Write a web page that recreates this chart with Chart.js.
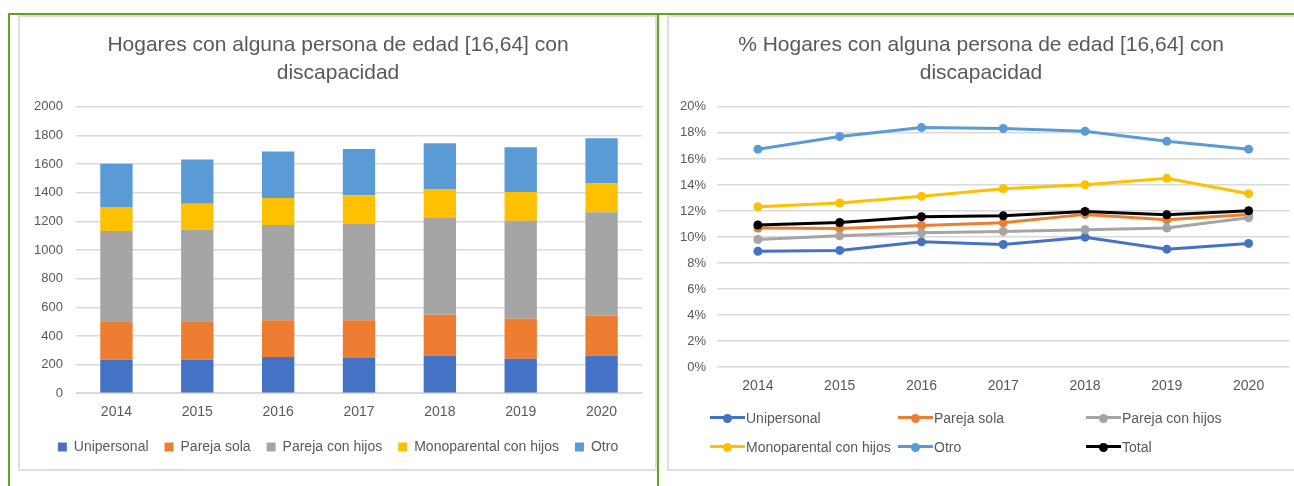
<!DOCTYPE html>
<html>
<head>
<meta charset="utf-8">
<script src="https://cdn.jsdelivr.net/npm/chart.js@4/dist/chart.umd.min.js"></script>
<style>
    body { margin: 0; background: #fff; width: 1294px; height: 486px; overflow: hidden; position: relative; font-family: "Liberation Sans", Arial, sans-serif; }
    .green { position: absolute; background: #65a41e; }
    .frame { position: absolute; border: 2px solid #dedede; box-sizing: border-box; }
    #leftBox { left: 18px; top: 15px; width: 639px; height: 456px; }
    #rightBox { left: 667px; top: 15px; width: 640px; height: 456px; }
    #leftWrap { position: absolute; left: 20px; top: 17px; width: 635px; height: 452px; }
    #rightWrap { position: absolute; left: 669px; top: 17px; width: 625px; height: 452px; }
    #lineLegend { position: absolute; left: 710px; top: 403px; display: grid; grid-template-columns: 188px 188px 188px; grid-auto-rows: 29px; font-size: 14px; color: #595959; }
    .item { display: flex; align-items: center; white-space: nowrap; }
    .mark { position: relative; width: 35px; height: 10px; margin-right: 1px; }
    .mark .ln { position: absolute; left: 0; right: 0; top: 3.5px; height: 3px; }
    .mark .dot { position: absolute; left: 13px; top: 1px; width: 9px; height: 9px; border-radius: 50%; }
</style>
</head>
<body>
<div class="frame" id="leftBox"></div>
<div class="frame" id="rightBox"></div>
<div class="green" style="left:8px;top:13px;width:1286px;height:2px"></div>
<div class="green" style="left:8px;top:13px;width:2px;height:473px"></div>
<div class="green" style="left:657px;top:13px;width:2px;height:473px"></div>
<div id="leftWrap"><canvas id="barChart"></canvas></div>
<div id="rightWrap"><canvas id="lineChart"></canvas></div>
<div id="lineLegend"></div>

<script>
let years = ['2014', '2015', '2016', '2017', '2018', '2019', '2020'];
let tipos = ['Unipersonal', 'Pareja sola', 'Pareja con hijos', 'Monoparental con hijos', 'Otro'];
let colores = ['#4472c4', '#ed7d31', '#a5a5a5', '#ffc000', '#5b9bd5'];

// numero de hogares
let unipersonal = [233, 233, 252, 245, 261, 240, 261];
let parejaSola = [264, 264, 258, 265, 287, 280, 280];
let parejaHijos = [636, 645, 665, 672, 676, 685, 723];
let monoparental = [167, 182, 189, 200, 198, 201, 200];
let otro = [303, 308, 324, 324, 324, 312, 317];

// porcentaje de hogares
let pctUnipersonal = [0.0891, 0.0897, 0.0963, 0.0943, 0.0999, 0.0907, 0.0951];
let pctParejaSola = [0.1069, 0.1066, 0.1089, 0.1109, 0.1174, 0.1133, 0.1174];
let pctParejaHijos = [0.0981, 0.1009, 0.1032, 0.1043, 0.1056, 0.1069, 0.1148];
let pctMonoparental = [0.1233, 0.1261, 0.1313, 0.1371, 0.1402, 0.1451, 0.1333];
let pctOtro = [0.1675, 0.1772, 0.1841, 0.1834, 0.1813, 0.1736, 0.1675];
let pctTotal = [0.1092, 0.1112, 0.1156, 0.1163, 0.1197, 0.1171, 0.1202];

let yTicksBar = [0, 200, 400, 600, 800, 1000, 1200, 1400, 1600, 1800, 2000];
let yTicksPct = [0, 0.02, 0.04, 0.06, 0.08, 0.1, 0.12, 0.14, 0.16, 0.18, 0.2];

let gris = '#595959';
let rejilla = '#d9d9d9';
let fuente = '"Liberation Sans", Arial, sans-serif';

Chart.defaults.font.family = fuente;
Chart.defaults.color = gris;
Chart.defaults.animation = false;

let valores = [unipersonal, parejaSola, parejaHijos, monoparental, otro];
let barSets = [];
for (let i = 0; i < tipos.length; i++) {
    barSets.push({
        label: tipos[i],
        data: valores[i],
        backgroundColor: colores[i],
        barPercentage: 0.4,
        categoryPercentage: 1.0
    });
}

new Chart(document.getElementById('barChart'), {
    type: 'bar',
    data: { labels: years, datasets: barSets },
    options: {
        responsive: true,
        maintainAspectRatio: false,
        layout: { padding: { left: 14, right: 13, bottom: 5 } },
        plugins: {
            title: {
                display: true,
                text: ['Hogares con alguna persona de edad [16,64] con', 'discapacidad'],
                color: gris,
                font: { size: 21, weight: 'normal', lineHeight: 1.33 },
                padding: { top: 14, bottom: 20 }
            },
            legend: {
                position: 'bottom',
                labels: { boxWidth: 9, boxHeight: 9, padding: 16, font: { size: 14 }, color: gris }
            },
            tooltip: { enabled: false }
        },
        scales: {
            x: {
                stacked: true,
                grid: { display: false },
                border: { color: rejilla },
                ticks: { font: { size: 14 }, color: gris, padding: 3 }
            },
            y: {
                stacked: true,
                min: 0,
                max: 2000,
                afterBuildTicks: function (axis) {
                    axis.ticks = yTicksBar.map(v => ({ value: v }));
                },
                afterFit: function (axis) {
                    axis.width = 42;
                },
                grid: { color: rejilla, lineWidth: 1.5, drawTicks: false },
                border: { display: false },
                ticks: {
                    font: { size: 13 },
                    color: gris,
                    padding: 13,
                    callback: function (v) { return String(v); }
                }
            }
        }
    }
});

let nombresLinea = ['Unipersonal', 'Pareja sola', 'Pareja con hijos', 'Monoparental con hijos', 'Otro', 'Total'];
let coloresLinea = ['#4472c4', '#ed7d31', '#a5a5a5', '#ffc000', '#5b9bd5', '#000000'];
let porcentajes = [pctUnipersonal, pctParejaSola, pctParejaHijos, pctMonoparental, pctOtro, pctTotal];
let lineSets = [];
for (let i = 0; i < nombresLinea.length; i++) {
    lineSets.push({
        label: nombresLinea[i],
        data: porcentajes[i],
        borderColor: coloresLinea[i],
        backgroundColor: coloresLinea[i],
        borderWidth: 3,
        pointRadius: 4.5,
        pointBorderWidth: 0,
        order: nombresLinea.length - i
    });
}

new Chart(document.getElementById('lineChart'), {
    type: 'line',
    data: { labels: years, datasets: lineSets },
    options: {
        responsive: true,
        maintainAspectRatio: false,
        layout: { padding: { left: 0, right: 1, bottom: 71 } },
        plugins: {
            title: {
                display: true,
                text: ['% Hogares con alguna persona de edad [16,64] con', 'discapacidad'],
                color: gris,
                font: { size: 21, weight: 'normal', lineHeight: 1.33 },
                padding: { top: 14, bottom: 20 }
            },
            legend: { display: false },
            tooltip: { enabled: false }
        },
        scales: {
            x: {
                offset: true,
                grid: { display: false },
                border: { display: false },
                ticks: { font: { size: 14 }, color: gris, padding: 3 }
            },
            y: {
                min: 0,
                max: 0.2,
                afterBuildTicks: function (axis) {
                    axis.ticks = yTicksPct.map(v => ({ value: v }));
                },
                grid: { color: rejilla, lineWidth: 1.5, drawTicks: false },
                border: { display: false },
                ticks: {
                    font: { size: 13 },
                    color: gris,
                    padding: 11,
                    callback: function (v) { return Math.round(v * 100) + '%'; }
                }
            }
        }
    }
});

// leyenda de la grafica de lineas
let leyenda = document.getElementById('lineLegend');
for (let i = 0; i < nombresLinea.length; i++) {
    let item = document.createElement('div');
    item.className = 'item';
    item.innerHTML = '<span class="mark"><span class="ln" style="background:' + coloresLinea[i] + '"></span>' +
        '<span class="dot" style="background:' + coloresLinea[i] + '"></span></span>' + nombresLinea[i];
    leyenda.appendChild(item);
}
</script>
</body>
</html>
